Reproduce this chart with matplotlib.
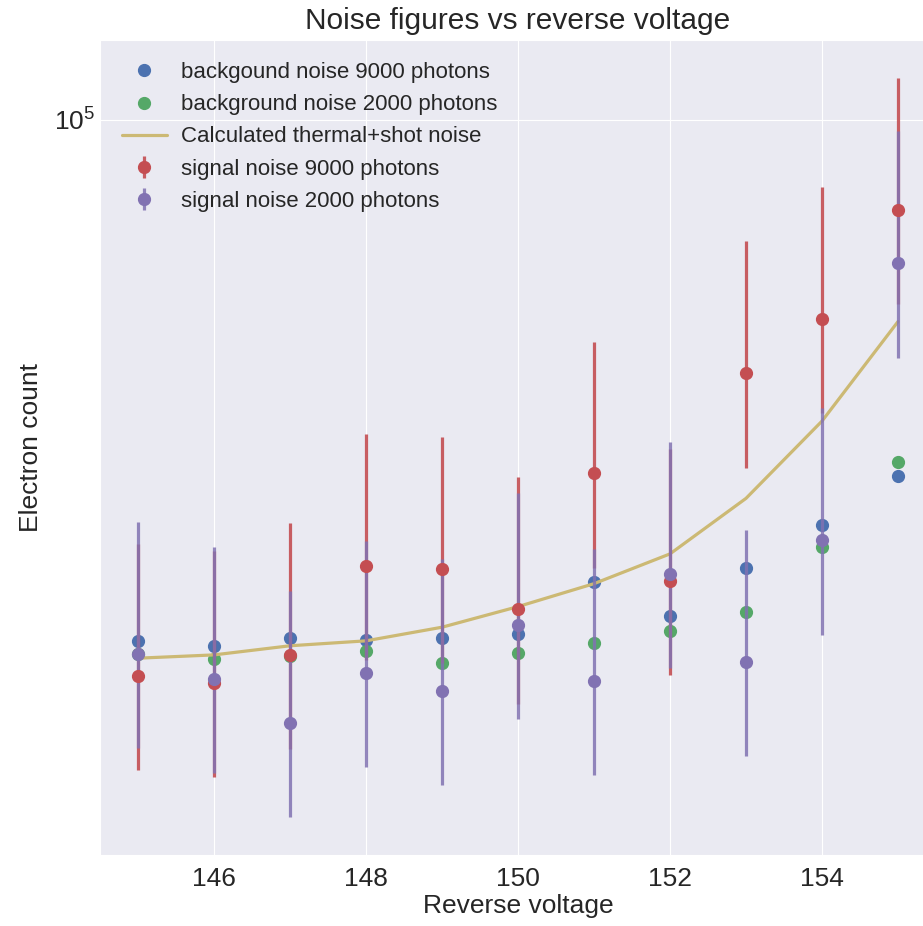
import matplotlib
matplotlib.use("Agg")
import matplotlib.pyplot as plt
import seaborn as sns
from matplotlib.ticker import NullFormatter, NullLocator

# Du lieu doc tu hinh
voltage = [145, 146, 147, 148, 149, 150, 151, 152, 153, 154, 155]

bg_9000 = [30100, 29800, 30300, 30200, 30300, 30600, 34500, 31900, 35600, 39300, 44000]
bg_2000 = [29200, 28900, 29100, 29400, 28600, 29300, 30000, 30800, 32200, 37400, 45500]
calc_noise = [28950, 29170, 29790, 30130, 31090, 32600, 34370, 36810, 41830, 49980, 62850]

sig_9000 = [27810, 27330, 29170, 35810, 35560, 32400, 44300, 34560, 55790, 63250, 81280]
sig_9000_lo = [5420, 5330, 5690, 6980, 6930, 6320, 8640, 6740, 10880, 12330, 15850]
sig_9000_hi = [9870, 9700, 10360, 12710, 12620, 11500, 15730, 12270, 19810, 22450, 28850]

sig_2000 = [29260, 27600, 24930, 28000, 26870, 31270, 27450, 35160, 28690, 37970, 71860]
sig_2000_lo = [5710, 5380, 4860, 5460, 5240, 6100, 5350, 6860, 5590, 7400, 14010]
sig_2000_hi = [10390, 9800, 8850, 9940, 9540, 11100, 9740, 12480, 10180, 13480, 25510]

sns.set_style("darkgrid")
plt.rcParams['font.family'] = ['Liberation Sans', 'DejaVu Sans']
plt.rcParams['mathtext.default'] = 'regular'

blue, green, red, purple, yellow = "#4C72B0", "#55A868", "#C44E52", "#8172B2", "#CCB974"

fig = plt.figure(figsize=(9.23, 9.26), dpi=100)
ax = fig.add_axes([100 / 923, 71 / 926, 836 / 923, 815 / 926])

ax.plot(voltage, bg_9000, 'o', color=blue, markersize=8.5, label='backgound noise 9000 photons')
ax.plot(voltage, bg_2000, 'o', color=green, markersize=8.5, label='background noise 2000 photons')
ax.plot(voltage, calc_noise, '-', color=yellow, linewidth=2.3, label='Calculated thermal+shot noise')

eb1 = ax.errorbar(voltage, sig_9000, yerr=[sig_9000_lo, sig_9000_hi], fmt='o', color=red,
                  markersize=8.5, elinewidth=2.3, label='signal noise 9000 photons')
eb2 = ax.errorbar(voltage, sig_2000, yerr=[sig_2000_lo, sig_2000_hi], fmt='o', color=purple,
                  markersize=8.5, elinewidth=2.3, label='signal noise 2000 photons')
eb1[2][0].set_alpha(0.9)
eb2[2][0].set_alpha(0.85)

ax.set_yscale('log')
ax.set_ylim(18400, 120200)
ax.set_xlim(144.5, 155.5)
ax.set_yticks([1e5])
ax.yaxis.set_minor_locator(NullLocator())
ax.yaxis.set_minor_formatter(NullFormatter())
ax.set_xticks([146, 148, 150, 152, 154])

ax.tick_params(axis='both', labelsize=19, length=0)
ax.tick_params(axis='x', pad=9)
ax.set_title('Noise figures vs reverse voltage', fontsize=21.5, pad=8)
ax.set_xlabel('Reverse voltage', fontsize=19, labelpad=2)
ax.set_ylabel('Electron count', fontsize=19, labelpad=8)

ax.legend(loc='upper left', fontsize=16, frameon=False, borderaxespad=0.6,
          handletextpad=0.65, labelspacing=0.5)

fig.savefig('out.png', dpi=100)
